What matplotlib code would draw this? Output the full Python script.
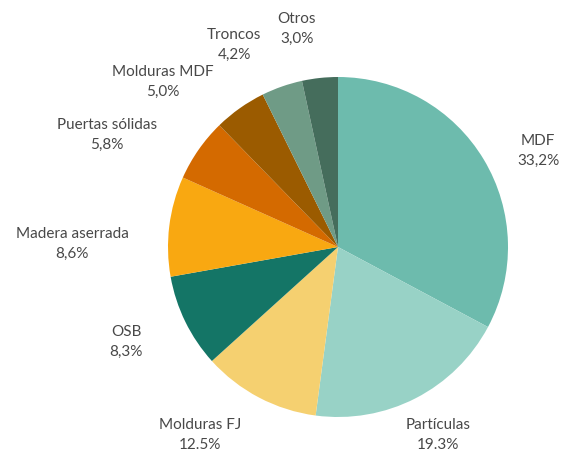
import matplotlib
matplotlib.use("Agg")
import matplotlib.pyplot as plt

categories = ["MDF", "Partículas", "Molduras FJ", "OSB", "Madera aserrada",
              "Puertas sólidas", "Molduras MDF", "Troncos", "Otros"]
# wedge sizes as drawn in the picture
values = [32.8, 19.3, 11.2, 8.9, 9.5, 6.0, 5.0, 3.9, 3.4]
# printed label texts
value_labels = ["33,2%", "19.3%", "12.5%", "8,3%", "8,6%", "5,8%", "5,0%", "4,2%", "3,0%"]

colors = ["#6dbbad", "#98d2c6", "#f5d070", "#147566", "#f9a811",
          "#d46a00", "#9b5b00", "#6f9b86", "#456d5c"]

# label block centres in pixel coordinates (layout only)
label_px = [(538, 151), (438, 435), (200, 435), (126, 342), (72, 244),
            (107, 135), (163, 82), (234, 45), (297, 29)]

W, H = 563, 453
cx, cy, r = 338, 247, 170

fig = plt.figure(figsize=(W / 100, H / 100), dpi=100)
ax = fig.add_axes([(cx - r) / W, (H - cy - r) / H, 2 * r / W, 2 * r / H])
ax.pie(values, colors=colors, startangle=90, counterclock=False,
       wedgeprops=dict(linewidth=0), radius=1)
ax.set_xlim(-1, 1)
ax.set_ylim(-1, 1)
ax.set_aspect("equal")
ax.axis("off")

for cat, vl, (px, py) in zip(categories, value_labels, label_px):
    x = (px - cx) / r
    y = (cy - py) / r
    ax.text(x, y, f"{cat}\n{vl}", ha="center", va="center", fontsize=11,
            family="Lato", color="#484848", linespacing=1.5, clip_on=False)

fig.savefig("out.png", dpi=100)
